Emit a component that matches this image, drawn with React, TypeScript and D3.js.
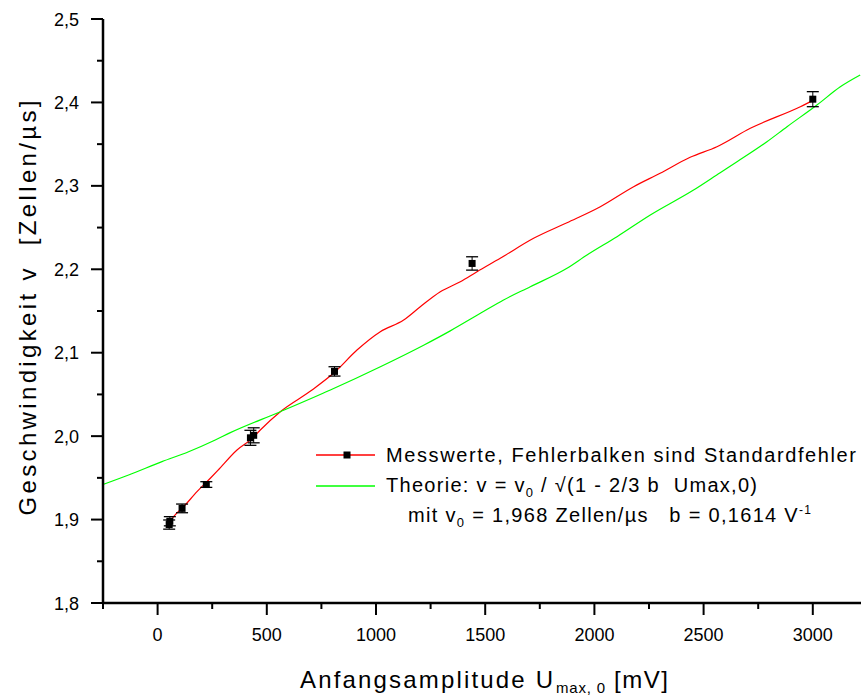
import React from 'react';
import * as d3 from 'd3';

// ---- data ----
const xTickValues = [0, 500, 1000, 1500, 2000, 2500, 3000];
const xTickLabels = ['0', '500', '1000', '1500', '2000', '2500', '3000'];
const xMinorValues = [-250, 250, 750, 1250, 1750, 2250, 2750, 3250];
const yTickValues = [1.8, 1.9, 2.0, 2.1, 2.2, 2.3, 2.4, 2.5];
const yTickLabels = ['1,8', '1,9', '2,0', '2,1', '2,2', '2,3', '2,4', '2,5'];
const yMinorValues = [1.85, 1.95, 2.05, 2.15, 2.25, 2.35, 2.45];

// measured values (mV, cells/µs) with standard errors
const pointX = [53, 56, 112, 223, 425, 440, 810, 1440, 3000];
const pointY = [1.894, 1.898, 1.9134, 1.942, 1.998, 2.001, 2.0776, 2.207, 2.4039];
const pointErr = [0.0055, 0.0055, 0.0052, 0.0034, 0.009, 0.009, 0.0056, 0.008, 0.009];

// red fit curve through the measurements
const fitX = [53.6, 73.3, 119, 180.4, 241.3, 274.7, 363.6, 433.6, 470.2, 561.8, 707, 810.4, 913, 1019.7, 1126.6, 1202.8, 1294.4, 1386, 1462.4, 1569, 1721.6, 1874.5, 2027, 2179.5, 2301, 2438.4, 2561, 2713.8, 2942.8, 3001];
const fitY = [1.8959, 1.9034, 1.9154, 1.9334, 1.9495, 1.9586, 1.9834, 1.9974, 2.0074, 2.0293, 2.0553, 2.0765, 2.1032, 2.1252, 2.1392, 2.1551, 2.1731, 2.1851, 2.1971, 2.2132, 2.2371, 2.2558, 2.275, 2.299, 2.3151, 2.3342, 2.3469, 2.369, 2.3949, 2.4025];

// green theory curve
const theoryX = [-247, -132.8, 20, 142, 264, 333, 561.8, 791, 1020, 1218, 1340, 1478, 1584, 1706.5, 1874.5, 1966, 2103.5, 2256, 2454, 2576, 2653, 2790, 2882, 3019, 3126, 3217];
const theoryY = [1.9423, 1.9534, 1.9694, 1.9813, 1.9954, 2.0042, 2.0293, 2.0553, 2.0832, 2.109, 2.1262, 2.1472, 2.1632, 2.1791, 2.2012, 2.2171, 2.2391, 2.2651, 2.295, 2.3158, 2.3289, 2.3529, 2.3709, 2.3969, 2.4188, 2.4329];

const FONT = "'Liberation Sans', Arial, Helvetica, sans-serif";

export default function App() {
  const W = 861;
  const H = 698;
  const x = d3.scaleLinear().domain([-250, 3250]).range([103, 867.4]);
  const y = d3.scaleLinear().domain([1.8, 2.5]).range([603, 19]);

  const mk = d3
    .line<[number, number]>()
    .x((d) => x(d[0]))
    .y((d) => y(d[1]))
    .curve(d3.curveMonotoneX);
  const fitPath = mk(fitX.map((v, i) => [v, fitY[i]] as [number, number])) || '';
  const theoryPath = mk(theoryX.map((v, i) => [v, theoryY[i]] as [number, number])) || '';

  const axisColor = '#000';
  const sq = 7;
  const pre = { whiteSpace: 'pre' as const };

  return (
    <svg
      width={W}
      height={H}
      viewBox={`0 0 ${W} ${H}`}
      style={{ position: 'absolute', left: 0, top: 0, background: '#fff', display: 'block' }}
      fontFamily={FONT}
    >
      <rect x={0} y={0} width={W} height={H} fill="#fff" />

      {/* curves */}
      <path d={fitPath} fill="none" stroke="#ff0000" strokeWidth={1.2} />
      <path d={theoryPath} fill="none" stroke="#00ff00" strokeWidth={1.2} />

      {/* error bars + points */}
      {pointX.map((px, i) => {
        const cx = x(px);
        const top = y(pointY[i] + pointErr[i]);
        const bot = y(pointY[i] - pointErr[i]);
        return (
          <g key={'e' + i}>
            <line x1={cx} x2={cx} y1={top} y2={bot} stroke="#000" strokeWidth={1} />
            <line x1={cx - 6} x2={cx + 6} y1={top} y2={top} stroke="#000" strokeWidth={1.3} />
            <line x1={cx - 6} x2={cx + 6} y1={bot} y2={bot} stroke="#000" strokeWidth={1.3} />
          </g>
        );
      })}
      {pointX.map((px, i) => (
        <rect key={'p' + i} x={x(px) - sq / 2} y={y(pointY[i]) - sq / 2} width={sq} height={sq} fill="#000" />
      ))}

      {/* y axis */}
      <line x1={103} x2={103} y1={y(2.5)} y2={y(1.8) + 1} stroke={axisColor} strokeWidth={2.5} />
      {yTickValues.map((v, i) => (
        <g key={'yt' + i}>
          <line x1={91} x2={103} y1={y(v)} y2={y(v)} stroke={axisColor} strokeWidth={2} />
          <text x={79} y={y(v) + 6.5} textAnchor="end" fontSize={18} fill="#000">
            {yTickLabels[i]}
          </text>
        </g>
      ))}
      {yMinorValues.map((v, i) => (
        <line key={'ym' + i} x1={97} x2={103} y1={y(v)} y2={y(v)} stroke={axisColor} strokeWidth={2} />
      ))}

      {/* x axis */}
      <line x1={102} x2={W} y1={603} y2={603} stroke={axisColor} strokeWidth={2.5} />
      {xTickValues.map((v, i) => (
        <g key={'xt' + i}>
          <line x1={x(v)} x2={x(v)} y1={603} y2={615} stroke={axisColor} strokeWidth={2} />
          <text x={x(v)} y={641} textAnchor="middle" fontSize={18} fill="#000">
            {xTickLabels[i]}
          </text>
        </g>
      ))}
      {xMinorValues.map((v, i) => (
        <line key={'xm' + i} x1={x(v)} x2={x(v)} y1={603} y2={609} stroke={axisColor} strokeWidth={2} />
      ))}

      {/* axis titles */}
      <text x={300} y={688} fontSize={24} fill="#000" textLength={253} lengthAdjust="spacing">
        Anfangsamplitude U
      </text>
      <text x={556} y={693} fontSize={15} fill="#000" textLength={49} lengthAdjust="spacing" style={pre}>
        {'max, 0'}
      </text>
      <text x={614} y={688} fontSize={24} fill="#000" textLength={54} lengthAdjust="spacing">
        [mV]
      </text>
      <text
        transform="translate(36,308) rotate(-90)"
        textAnchor="middle"
        fontSize={24}
        fill="#000"
        textLength={415}
        lengthAdjust="spacing"
        style={pre}
      >
        {'Geschwindigkeit v  [Zellen/µs]'}
      </text>

      {/* legend */}
      <line x1={316} x2={375} y1={455} y2={455} stroke="#ff0000" strokeWidth={1.3} />
      <rect x={347 - sq / 2} y={455 - sq / 2} width={sq} height={sq} fill="#000" />
      <text x={386} y={462} fontSize={20} fill="#000" textLength={470} lengthAdjust="spacing">
        Messwerte, Fehlerbalken sind Standardfehler
      </text>
      <line x1={316} x2={375} y1={486} y2={486} stroke="#00ff00" strokeWidth={1.3} />
      <text x={386} y={492} fontSize={20} fill="#000" textLength={371} lengthAdjust="spacing" style={pre}>
        {'Theorie: v = v'}
        <tspan fontSize={13} dy={5}>0</tspan>
        <tspan dy={-5}>{' / √(1 - 2/3 b  Umax,0)'}</tspan>
      </text>
      <text x={408} y={522} fontSize={20} fill="#000" textLength={403} lengthAdjust="spacing" style={pre}>
        {'mit v'}
        <tspan fontSize={13} dy={5}>0</tspan>
        <tspan dy={-5}>{' = 1,968 Zellen/µs   b = 0,1614 V'}</tspan>
        <tspan fontSize={12} dy={-8}>-1</tspan>
      </text>
    </svg>
  );
}
